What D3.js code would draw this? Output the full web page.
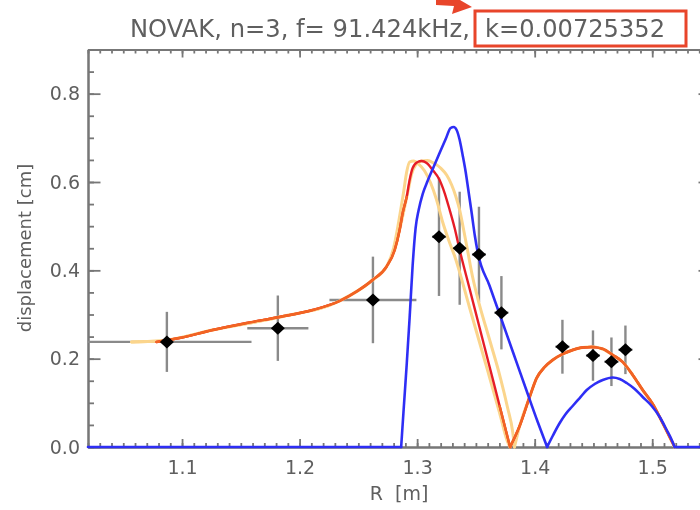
<!DOCTYPE html>
<html>
<head>
<meta charset="utf-8">
<script src="https://cdn.jsdelivr.net/npm/d3@7"></script>
<style>
  body { margin: 0; background: #fff; }
  text { font-family: "DejaVu Sans", sans-serif; fill: #5e5e5e; }
</style>
</head>
<body>
<svg id="chart" width="700" height="510"></svg>
<script>
// measured points with error bars
const pointR = [1.0871, 1.1815, 1.2624, 1.3186, 1.3362, 1.3526, 1.3717, 1.4236, 1.4496, 1.4653, 1.4772];
const pointV = [0.238, 0.269, 0.333, 0.476, 0.450, 0.436, 0.304, 0.227, 0.207, 0.193, 0.220];
const pointRErr = [0.072, 0.026, 0.037, 0.006, 0.006, 0.006, 0.006, 0.006, 0.006, 0.006, 0.006];
const pointVErr = [0.068, 0.074, 0.098, 0.134, 0.128, 0.108, 0.083, 0.061, 0.057, 0.055, 0.055];

// second lobe shared by red / orange / yellow curves
const archR = [1.3872, 1.3957, 1.4017, 1.4085, 1.4153, 1.4238, 1.4323, 1.4409, 1.4485, 1.4579, 1.4664, 1.4749, 1.4834, 1.4919, 1.5004, 1.5089, 1.5140, 1.5191];
const archV = [0.0475, 0.1132, 0.1562, 0.1811, 0.1970, 0.2105, 0.2196, 0.2253, 0.2264, 0.2219, 0.2083, 0.1924, 0.1630, 0.1290, 0.0974, 0.0543, 0.0272, 0];

const redR = [1.0783, 1.0979, 1.1260, 1.1549, 1.1830, 1.2111, 1.2340, 1.2485, 1.2621, 1.2740, 1.2809, 1.2851, 1.2877, 1.2911, 1.2936, 1.2962, 1.3004, 1.3038, 1.3081, 1.3132, 1.3191, 1.3234, 1.3277, 1.3319, 1.3362, 1.3447, 1.3532, 1.3617, 1.3702, 1.3791];
const redV = [0.2377, 0.2468, 0.2649, 0.2807, 0.2943, 0.3102, 0.3305, 0.3520, 0.3781, 0.4086, 0.4460, 0.4913, 0.5298, 0.5660, 0.6045, 0.6317, 0.6452, 0.6475, 0.6430, 0.6271, 0.6045, 0.5750, 0.5366, 0.4958, 0.4460, 0.3577, 0.2694, 0.1811, 0.0928, 0];

// orange lies over red except on the main peak (null = hidden part)
const orangeR = [1.0783, 1.0979, 1.1260, 1.1549, 1.1830, 1.2111, 1.2340, 1.2485, 1.2621, 1.2740, 1.2809, 1.2851, 1.2877, 1.2911, 1.3300, 1.3702, 1.3791];
const orangeV = [0.2377, 0.2468, 0.2649, 0.2807, 0.2943, 0.3102, 0.3305, 0.3520, 0.3781, 0.4086, 0.4460, 0.4913, 0.5298, 0.5660, null, 0.0928, 0];

const yelAR = [1.0570, 1.0809, 1.1260, 1.1830, 1.2340, 1.2621, 1.2740, 1.2800, 1.2834, 1.2860, 1.2885, 1.2911, 1.2936, 1.2970, 1.3013, 1.3064, 1.3115, 1.3166, 1.3217, 1.3268, 1.3319, 1.3447, 1.3574, 1.3702, 1.3770, 1.3791];
const yelAV = [0.2377, 0.2400, 0.2649, 0.2943, 0.3305, 0.3781, 0.4086, 0.4505, 0.4958, 0.5366, 0.5773, 0.6226, 0.6452, 0.6475, 0.6407, 0.6249, 0.5977, 0.5592, 0.5094, 0.4686, 0.4324, 0.3147, 0.1970, 0.0770, 0.0113, 0];

const yelBR = [1.0570, 1.0809, 1.1260, 1.1830, 1.2340, 1.2621, 1.2740, 1.2809, 1.2851, 1.2885, 1.2919, 1.2953, 1.2987, 1.3038, 1.3089, 1.3140, 1.3200, 1.3251, 1.3294, 1.3328, 1.3362, 1.3396, 1.3430, 1.3472, 1.3515, 1.3617, 1.3702, 1.3770, 1.3813, 1.3828];
const yelBV = [0.2377, 0.2400, 0.2649, 0.2943, 0.3305, 0.3781, 0.4086, 0.4460, 0.4913, 0.5320, 0.5750, 0.6180, 0.6384, 0.6475, 0.6486, 0.6430, 0.6317, 0.6158, 0.5932, 0.5683, 0.5366, 0.4913, 0.4437, 0.3849, 0.3373, 0.2422, 0.1630, 0.0883, 0.0340, 0];

const blueR = [1.02, 1.2864, 1.2885, 1.2911, 1.2936, 1.2962, 1.2987, 1.3013, 1.3047, 1.3089, 1.3140, 1.3191, 1.3243, 1.3285, 1.3311, 1.3336, 1.3362, 1.3387, 1.3413, 1.3438, 1.3464, 1.3490, 1.3515, 1.3617, 1.3719, 1.3821, 1.3923, 1.4026, 1.4106, 1.4153, 1.4213, 1.4264, 1.4323, 1.4383, 1.4443, 1.4511, 1.4579, 1.4664, 1.4723, 1.4783, 1.4851, 1.4919, 1.4996, 1.5064, 1.5123, 1.5166, 1.5191, 1.55];
const blueV = [0, 0, 0.0838, 0.1856, 0.2921, 0.4120, 0.4958, 0.5366, 0.5728, 0.6022, 0.6339, 0.6656, 0.6973, 0.7222, 0.7245, 0.7177, 0.6950, 0.6611, 0.6226, 0.5773, 0.5298, 0.4800, 0.4415, 0.3645, 0.2875, 0.2105, 0.1336, 0.0566, 0, 0.0249, 0.0543, 0.0747, 0.0928, 0.1109, 0.1290, 0.1426, 0.1517, 0.1573, 0.1540, 0.1449, 0.1313, 0.1132, 0.0928, 0.0679, 0.0385, 0.0158, 0, 0];

const xMajor = [1.1, 1.2, 1.3, 1.4, 1.5];
const xMinor = d3.range(102, 156).map((d) => d / 100);
const yMajor = [0, 0.2, 0.4, 0.6, 0.8];
const yMinor = d3.range(0, 19).map((d) => d * 0.05);

const title = "NOVAK, n=3, f= 91.424kHz,";
const titleK = "k=0.00725352";

const svg = d3.select("#chart");
svg.append("defs").append("filter").attr("id", "soft")
  .append("feGaussianBlur").attr("stdDeviation", 0.45);

const g = svg.append("g").attr("filter", "url(#soft)");

const x = d3.scaleLinear().domain([1.02, 1.55]).range([88, 711]);
const y = d3.scaleLinear().domain([0, 0.9]).range([447, 49.5]);

const axisColor = "#777";

function styleAxis(sel) {
  sel.select(".domain").attr("stroke", axisColor).attr("stroke-width", 2);
  sel.selectAll(".tick line").attr("stroke", axisColor).attr("stroke-width", 1.8);
  sel.selectAll(".tick text").attr("fill", "#5e5e5e").attr("font-size", 19)
    .attr("font-family", "DejaVu Sans, sans-serif");
}

// axes (IDL style box, ticks inward)
g.append("g").attr("transform", "translate(0,447)")
  .call(d3.axisBottom(x).tickValues(xMinor).tickSize(-4).tickSizeOuter(0).tickFormat(""))
  .call(styleAxis);
g.append("g").attr("transform", "translate(0,447)")
  .call(d3.axisBottom(x).tickValues(xMajor).tickSize(-8).tickSizeOuter(0).tickPadding(14).tickFormat(d3.format(".1f")))
  .call(styleAxis);
g.append("g").attr("transform", "translate(0,49.5)")
  .call(d3.axisTop(x).tickValues(xMinor).tickSize(-4).tickSizeOuter(0).tickFormat(""))
  .call(styleAxis);
g.append("g").attr("transform", "translate(0,49.5)")
  .call(d3.axisTop(x).tickValues(xMajor).tickSize(-8).tickSizeOuter(0).tickFormat(""))
  .call(styleAxis);
g.append("g").attr("transform", "translate(88,0)")
  .call(d3.axisLeft(y).tickValues(yMinor).tickSize(-6).tickSizeOuter(0).tickFormat(""))
  .call(styleAxis);
g.append("g").attr("transform", "translate(88,0)")
  .call(d3.axisLeft(y).tickValues(yMajor).tickSize(-12.5).tickSizeOuter(0).tickPadding(8).tickFormat(d3.format(".1f")))
  .call(styleAxis);
g.append("g").attr("transform", "translate(711,0)")
  .call(d3.axisRight(y).tickValues(yMinor).tickSize(-6).tickSizeOuter(0).tickFormat(""))
  .call(styleAxis);
g.append("g").attr("transform", "translate(711,0)")
  .call(d3.axisRight(y).tickValues(yMajor).tickSize(-12.5).tickSizeOuter(0).tickFormat(""))
  .call(styleAxis);

// axis titles
g.append("text")
  .attr("x", 399).attr("y", 500)
  .attr("text-anchor", "middle").attr("font-size", 19)
  .style("white-space", "pre")
  .text("R  [m]");

g.append("text")
  .attr("transform", "translate(31,248) rotate(-90)")
  .attr("text-anchor", "middle").attr("font-size", 18)
  .text("displacement [cm]");

// title with highlighted k value
g.append("text").attr("x", 130).attr("y", 37).attr("font-size", 24)
  .attr("textLength", 340).attr("lengthAdjust", "spacingAndGlyphs")
  .text(title);
g.append("text").attr("x", 485).attr("y", 37).attr("font-size", 24)
  .attr("textLength", 180).attr("lengthAdjust", "spacingAndGlyphs")
  .text(titleK);

g.append("rect")
  .attr("x", 475).attr("y", 11).attr("width", 211).attr("height", 35)
  .attr("fill", "none").attr("stroke", "#e8452c").attr("stroke-width", 3);

g.append("path")
  .attr("d", "M436,0 L460,0 L472,7 L452,14 L454,6 L436,5 Z")
  .attr("fill", "#e8452c");

// error bars
const pts = pointR.map((r, i) => ({ r, v: pointV[i], dr: pointRErr[i], dv: pointVErr[i] }));
svg.append("clipPath").attr("id", "plotclip")
  .append("rect").attr("x", 88).attr("y", 49.5).attr("width", 623).attr("height", 397.5);

const bars = g.append("g").attr("clip-path", "url(#plotclip)")
  .attr("stroke", "#8a8a8a").attr("stroke-width", 2.4);
pts.forEach((p) => {
  bars.append("line")
    .attr("x1", x(p.r - p.dr)).attr("x2", x(p.r + p.dr))
    .attr("y1", y(p.v)).attr("y2", y(p.v));
  bars.append("line")
    .attr("x1", x(p.r)).attr("x2", x(p.r))
    .attr("y1", y(p.v - p.dv)).attr("y2", y(p.v + p.dv));
});

// model curves
function series(rs, vs) {
  return rs.map((r, i) => ({ r, v: vs[i] }));
}
// cut a curve at its interior zeros so the cusps stay sharp
function pieces(data) {
  const out = [];
  let cur = [];
  data.forEach((d, i) => {
    cur.push(d);
    if (d.v === 0 && i > 0 && i < data.length - 1) {
      out.push(cur);
      cur = [d];
    }
  });
  if (cur.length > 1) out.push(cur);
  return out;
}
const line = d3.line()
  .defined((d) => d.v !== null)
  .curve(d3.curveMonotoneX)
  .x((d) => x(d.r))
  .y((d) => y(d.v));

const curves = [
  { data: series(yelBR.concat(archR), yelBV.concat(archV)), color: "#fbd58c", width: 3 },
  { data: series(yelAR.concat(archR), yelAV.concat(archV)), color: "#fbd58c", width: 3 },
  { data: series(redR.concat(archR), redV.concat(archV)), color: "#e61e28", width: 2.4 },
  { data: series(orangeR.concat(archR), orangeV.concat(archV)), color: "#f26522", width: 2.4 },
  { data: series(blueR, blueV), color: "#2f2ff5", width: 2.6 },
];

curves.forEach((c) => {
  pieces(c.data).forEach((seg) => {
    g.append("path")
      .attr("d", line(seg))
      .attr("fill", "none")
      .attr("stroke", c.color)
      .attr("stroke-width", c.width)
      .attr("stroke-linejoin", "round")
      .attr("stroke-linecap", "round");
  });
});

// diamond markers
g.append("g").selectAll("path")
  .data(pts)
  .join("path")
  .attr("d", (p) => {
    const cx = x(p.r), cy = y(p.v);
    return `M${cx},${cy - 6.5} L${cx + 7},${cy} L${cx},${cy + 6.5} L${cx - 7},${cy} Z`;
  })
  .attr("fill", "#000");
</script>
</body>
</html>
